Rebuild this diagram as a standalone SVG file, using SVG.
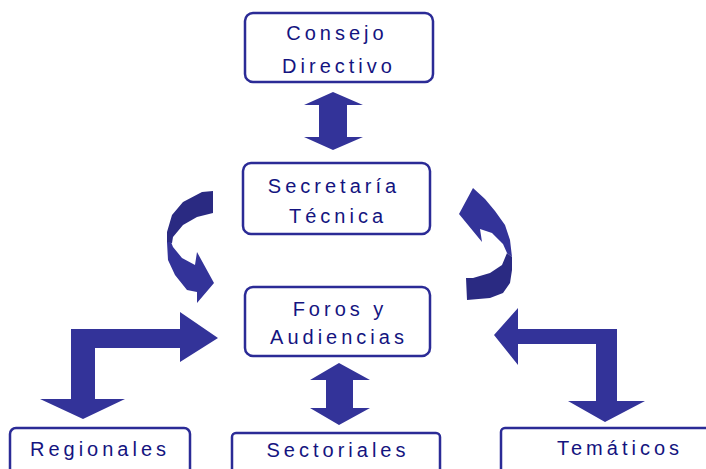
<svg xmlns="http://www.w3.org/2000/svg" width="706" height="469" viewBox="0 0 706 469">
<style>
.box{fill:#fff;stroke:#2b2b96;stroke-width:2.5}
.t{font-family:"Liberation Sans",Arial,sans-serif;font-size:20px;fill:#141480;letter-spacing:4px;text-anchor:middle}
.a{fill:#333399}
.d{fill:#2a2a82}
</style>
<rect width="706" height="469" fill="#fff"/>
<g id="connectors">
<path class="a" d="M333,92 L363,105 L347,105 L347,137 L363,137 L333,150 L304,137 L319,137 L319,105 L304,105 Z"/>
<path class="a" d="M339,363 L370,380 L353,380 L353,408 L370,408 L339,425 L310,408 L326,408 L326,380 L310,380 Z"/>
<path class="a" d="M71,399 L71,329 L180,329 L180,312 L218,338 L180,362 L180,348 L95,348 L95,399 L125,399 L83,419 L40,399 Z"/>
<path class="a" d="M494,335 L518,308 L518,329 L617,329 L617,401 L645,401 L605,422 L568,401 L596,401 L596,344 L518,344 L518,365 Z"/>
<path class="d" d="M213,191 L202,192 L183,202 L172,215 L167,232 L167,243 L172,243 L173,237 L183,225 L197,217 L213,213 Z"/>
<path class="a" d="M167,242 L168,260 L175,275 L187,290 L197,292 L197,303 L214,283 L197,252 L195,265 L182,258 L173,247 L171,242 Z"/>
<path class="a" d="M473,188 L459,214 L482,242 L480,229 L492,233 L503,244 L507,253 L512,257 L510,240 L505,225 L495,211 L485,199 Z"/>
<path class="d" d="M507,253 L502,265 L490,273 L473,278 L466,278 L467,300 L490,298 L503,293 L510,283 L512,270 L512,257 Z"/>
</g>
<g id="consejo">
<rect class="box" x="245" y="13" width="188" height="69" rx="8"/>
<text class="t" x="337" y="40">Consejo</text>
<text class="t" x="339" y="73">Directivo</text>
</g>
<g id="secretaria">
<rect class="box" x="243" y="163" width="187" height="71" rx="8"/>
<text class="t" x="334" y="193">Secretaría</text>
<text class="t" x="338" y="223">Técnica</text>
</g>
<g id="foros">
<rect class="box" x="245" y="287" width="185" height="69" rx="8"/>
<text class="t" x="340" y="316">Foros y</text>
<text class="t" x="339" y="344">Audiencias</text>
</g>
<g id="regionales">
<rect class="box" x="10" y="428" width="180" height="60" rx="6"/>
<text class="t" x="100" y="456">Regionales</text>
</g>
<g id="sectoriales">
<rect class="box" x="232" y="433" width="208" height="60" rx="4"/>
<text class="t" x="338" y="457">Sectoriales</text>
</g>
<g id="tematicos">
<rect class="box" x="501" y="428" width="220" height="60" rx="4"/>
<text class="t" x="620" y="455">Temáticos</text>
</g>
</svg>
